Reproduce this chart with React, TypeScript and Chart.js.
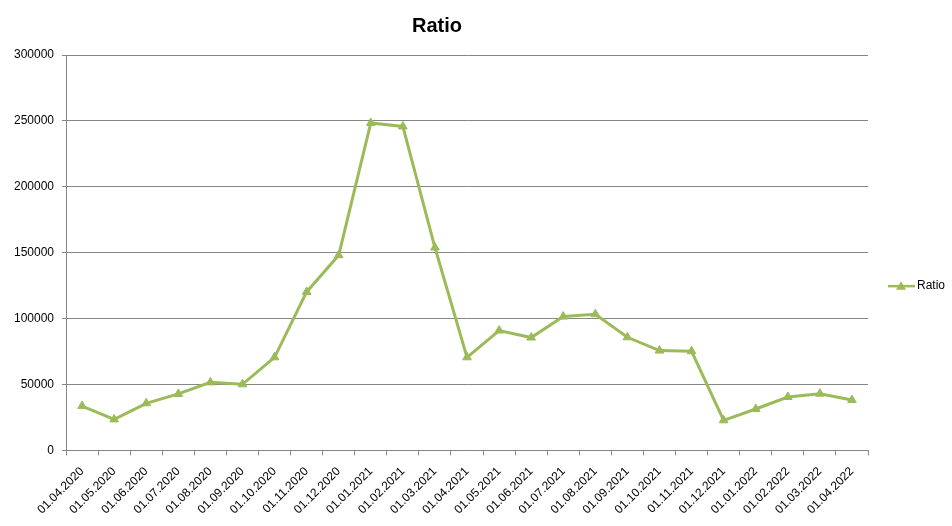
import React, { useEffect, useRef } from "react";
import { Chart, registerables } from "chart.js";

Chart.register(...registerables);

const categories: string[] = [
  "01.04.2020", "01.05.2020", "01.06.2020", "01.07.2020", "01.08.2020", "01.09.2020",
  "01.10.2020", "01.11.2020", "01.12.2020", "01.01.2021", "01.02.2021", "01.03.2021",
  "01.04.2021", "01.05.2021", "01.06.2021", "01.07.2021", "01.08.2021", "01.09.2021",
  "01.10.2021", "01.11.2021", "01.12.2021", "01.01.2022", "01.02.2022", "01.03.2022",
  "01.04.2022",
];

const ratioValues: number[] = [
  33600, 23500, 35700, 42800, 51600, 50100,
  70600, 120200, 148100, 248400, 245800, 153900,
  70600, 90900, 85600, 101500, 103300, 85800,
  75700, 75200, 22800, 31400, 40500, 43000,
  38200,
];

const seriesLabel = "Ratio";
const titleText = "Ratio";
const yMin = 0;
const yMax = 300000;
const yStep = 50000;

const GREEN = "#9BBB59";
const GRID = "#868686";
const FONT = "'Liberation Sans', Arial, sans-serif";

const sideLegend = {
  id: "sideLegend",
  afterDraw(chart: any) {
    const { ctx, chartArea } = chart;
    const ds = chart.data.datasets[0];
    const x0 = chartArea.right + 20;
    const y = chart.height * 0.544;
    ctx.save();
    ctx.strokeStyle = ds.borderColor;
    ctx.lineWidth = 2.5;
    ctx.beginPath();
    ctx.moveTo(x0, y);
    ctx.lineTo(x0 + 27, y);
    ctx.stroke();
    const cx = x0 + 13;
    const r = 5;
    ctx.fillStyle = ds.pointBackgroundColor;
    ctx.beginPath();
    ctx.moveTo(cx, y - r);
    ctx.lineTo(cx + r, y + r * 0.7);
    ctx.lineTo(cx - r, y + r * 0.7);
    ctx.closePath();
    ctx.fill();
    ctx.fillStyle = "#000";
    ctx.font = `12px ${FONT}`;
    ctx.textBaseline = "middle";
    ctx.textAlign = "left";
    ctx.fillText(ds.label, x0 + 29, y);
    ctx.restore();
  },
};

export default function App() {
  const ref = useRef<HTMLCanvasElement | null>(null);

  useEffect(() => {
    if (!ref.current) return;
    const chart = new Chart(ref.current, {
      type: "line",
      data: {
        labels: categories,
        datasets: [
          {
            label: seriesLabel,
            data: ratioValues,
            borderColor: GREEN,
            backgroundColor: GREEN,
            pointBackgroundColor: GREEN,
            pointBorderColor: GREEN,
            pointStyle: "triangle",
            pointRadius: 5,
            pointBorderWidth: 1,
            borderWidth: 3,
            tension: 0,
            fill: false,
          },
        ],
      },
      options: {
        animation: false,
        responsive: false,
        maintainAspectRatio: false,
        layout: { padding: { left: 6, right: 84, top: 0, bottom: 0 } },
        plugins: {
          legend: { display: false },
          tooltip: { enabled: false },
          title: {
            display: true,
            text: titleText,
            color: "#000",
            font: { family: FONT, size: 20, weight: "bold" },
            padding: { top: 14, bottom: 17 },
          },
        },
        scales: {
          x: {
            offset: true,
            grid: {
              offset: true,
              drawOnChartArea: false,
              drawTicks: true,
              tickLength: 5,
              color: GRID,
            },
            border: { color: GRID, width: 1 },
            ticks: {
              color: "#000",
              font: { family: FONT, size: 12 },
              maxRotation: 45,
              minRotation: 45,
              autoSkip: false,
              padding: 9,
            },
          },
          y: {
            min: yMin,
            max: yMax,
            grid: { color: GRID, lineWidth: 1, drawTicks: true, tickLength: 4 },
            border: { color: GRID, width: 1 },
            ticks: {
              stepSize: yStep,
              color: "#000",
              font: { family: FONT, size: 12 },
              padding: 8,
              callback: (v: any) => String(v),
            },
          },
        },
      },
      plugins: [sideLegend],
    });
    return () => chart.destroy();
  }, []);

  return (
    <div style={{ position: "fixed", left: 0, top: 0, width: 952, height: 526, background: "#fff" }}>
      <canvas ref={ref} width={952} height={526} style={{ width: 952, height: 526 }} />
    </div>
  );
}
